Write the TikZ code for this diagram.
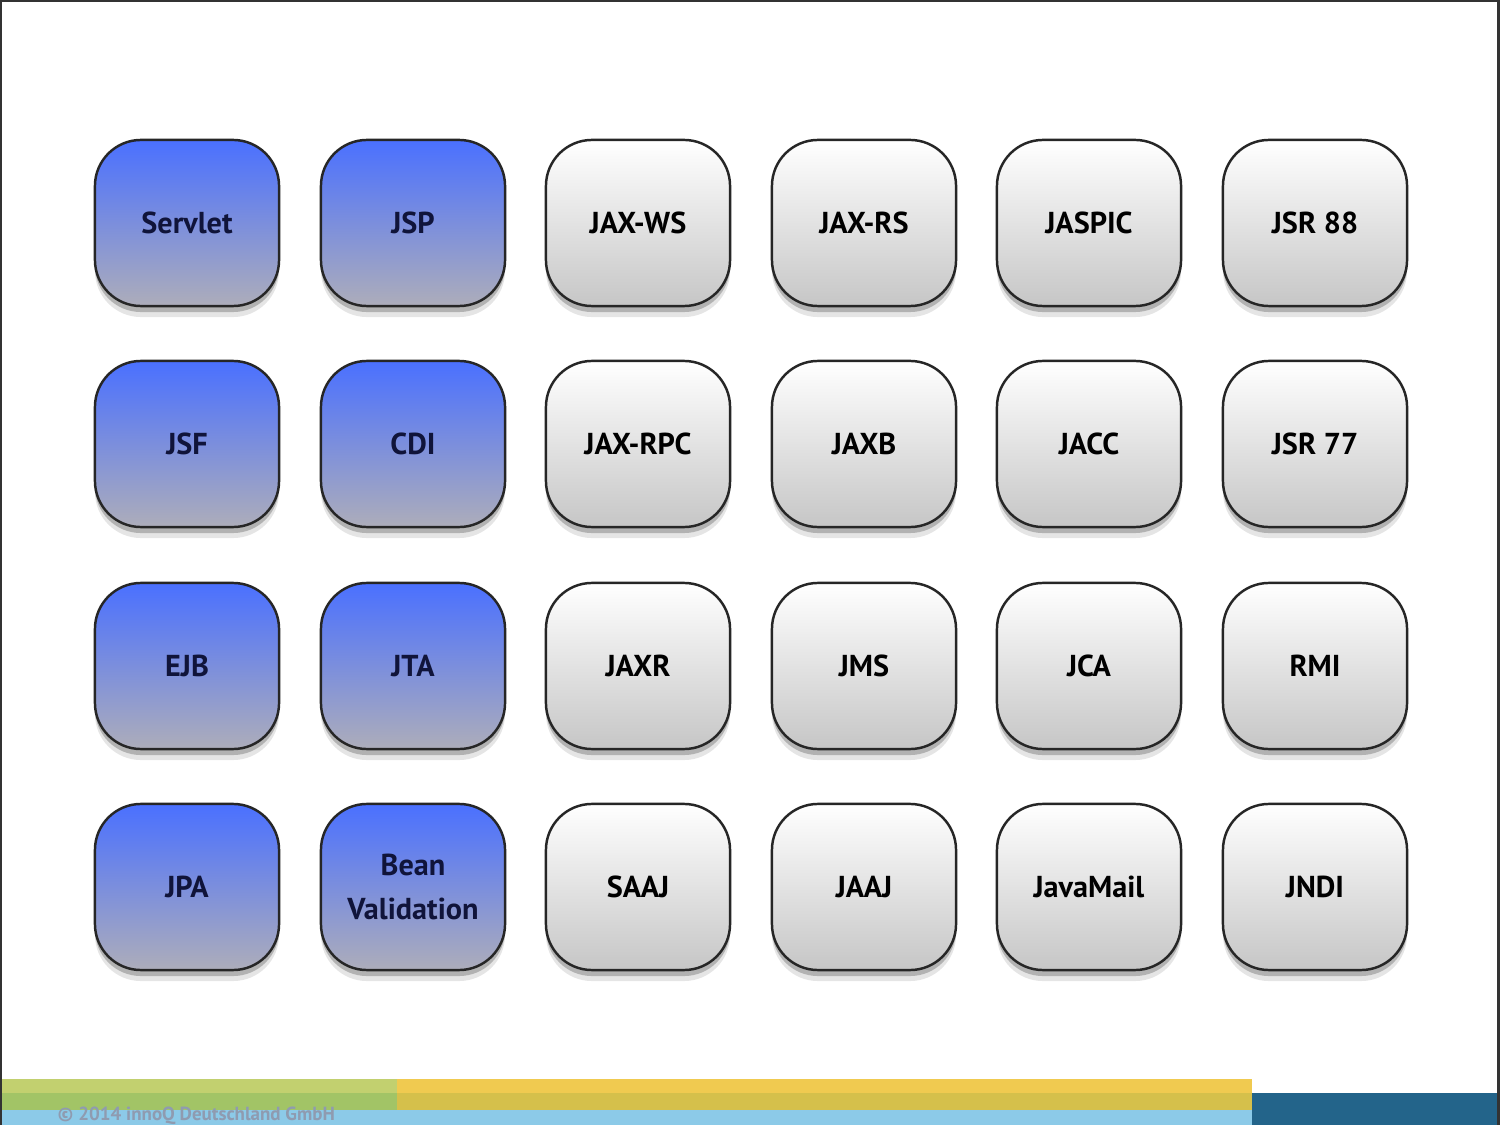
\documentclass[tikz,border=0pt]{standalone}
\usepackage{fontspec}
\setmainfont{PT Sans}
\usetikzlibrary{shadows}
\definecolor{bluetop}{HTML}{4A70FF}
\definecolor{bluebot}{HTML}{ADADBA}
\definecolor{graybot}{HTML}{C6C6C6}
\definecolor{navytext}{HTML}{10143A}
\definecolor{greenA}{HTML}{C2D06F}
\definecolor{greenB}{HTML}{A2C466}
\definecolor{yellowA}{HTML}{F0CA50}
\definecolor{yellowB}{HTML}{D5C04B}
\definecolor{lightblue}{HTML}{8CCAE8}
\definecolor{darkblue}{HTML}{23648A}
\definecolor{copytext}{HTML}{8F9BB0}
\tikzset{
  box/.style={draw=black!85, line width=0.7pt, rounded corners=0.46cm,
    minimum width=1.84cm, minimum height=1.66cm, inner sep=0pt,
    font=\fontsize{8.6}{12.5}\selectfont\bfseries, align=center,
    drop shadow={shadow xshift=0cm, shadow yshift=-0.11cm, opacity=0.1, fill=black},
    drop shadow={shadow xshift=0cm, shadow yshift=-0.06cm, opacity=0.22, fill=black}},
  bluebox/.style={box, top color=bluetop, bottom color=bluebot, text=navytext},
  graybox/.style={box, top color=white, bottom color=graybot, text=black}
}
\begin{document}
\begin{tikzpicture}[x=0.01cm, y=-0.01cm]
\useasboundingbox (0,0) rectangle (1500,1125);
\fill[white] (0,0) rectangle (1500,1125);
% bottom bars
\fill[greenA] (0,1079) rectangle (397,1094);
\fill[greenB] (0,1093) rectangle (397,1111);
\fill[yellowA] (397,1079) rectangle (1252,1094);
\fill[yellowB] (397,1093) rectangle (1252,1111);
\fill[lightblue] (0,1110) rectangle (1252,1125);
\fill[darkblue] (1252,1093) rectangle (1500,1125);
\node[anchor=base west, inner sep=0pt, text=copytext, font=\fontsize{5.4}{6}\selectfont\bfseries] (copy) at (57,1120) {© 2014 innoQ Deutschland GmbH};
% frame
\draw[black!80, line width=0.8pt] (0.5,1125) -- (0.5,0.5) -- (1498.5,0.5) -- (1498.5,1125);
% boxes
\node[bluebox] (servlet) at (187,223) {Servlet};
\node[bluebox] (jsp) at (413,223) {JSP};
\node[graybox] (jaxws) at (638,223) {JAX-WS};
\node[graybox] (jaxrs) at (864,223) {JAX-RS};
\node[graybox] (jaspic) at (1089,223) {JASPIC};
\node[graybox] (jsr88) at (1315,223) {JSR 88};
\node[bluebox] (jsf) at (187,444) {JSF};
\node[bluebox] (cdi) at (413,444) {CDI};
\node[graybox] (jaxrpc) at (638,444) {JAX-RPC};
\node[graybox] (jaxb) at (864,444) {JAXB};
\node[graybox] (jacc) at (1089,444) {JACC};
\node[graybox] (jsr77) at (1315,444) {JSR 77};
\node[bluebox] (ejb) at (187,666) {EJB};
\node[bluebox] (jta) at (413,666) {JTA};
\node[graybox] (jaxr) at (638,666) {JAXR};
\node[graybox] (jms) at (864,666) {JMS};
\node[graybox] (jca) at (1089,666) {JCA};
\node[graybox] (rmi) at (1315,666) {RMI};
\node[bluebox] (jpa) at (187,887) {JPA};
\node[bluebox] (bean) at (413,887) {Bean\\Validation};
\node[graybox] (saaj) at (638,887) {SAAJ};
\node[graybox] (jaaj) at (864,887) {JAAJ};
\node[graybox] (javamail) at (1089,887) {JavaMail};
\node[graybox] (jndi) at (1315,887) {JNDI};
\end{tikzpicture}
\end{document}
